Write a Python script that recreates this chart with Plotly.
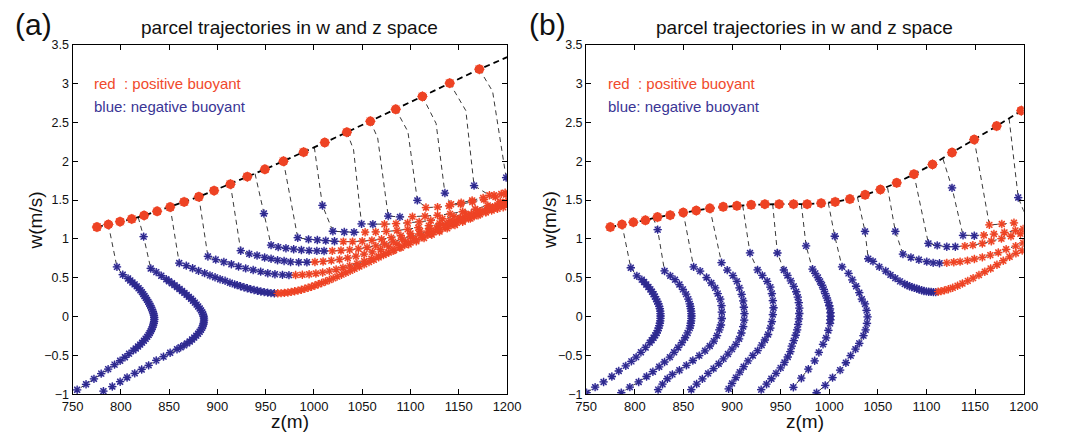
import plotly.graph_objects as go

# point kinds: N = path only (no marker), B = negative buoyancy, R = positive buoyancy
N, B, R = "-", "b", "r"

# ---------------- panel (a) ----------------
A_TOP_Z = [775.3, 787.1, 799.2, 811.3, 824.1, 837.6, 851.1, 865.6, 880.8, 896.6, 913.5,
           931.0, 949.2, 968.4, 989.3, 1011.2, 1034.1, 1058.4, 1084.7, 1112.3, 1140.6, 1171.3]
A_TOP_W = [1.153, 1.186, 1.223, 1.257, 1.302, 1.356, 1.410, 1.477, 1.543, 1.622, 1.705,
           1.801, 1.896, 2.000, 2.117, 2.241, 2.374, 2.515, 2.669, 2.835, 3.006, 3.185]
A_TOP_END = (1200.0, 3.34)

A01 = [(787.1, 1.186, N), (796.0, 0.640, B), (802.0, 0.540, B), (807.5, 0.490, B), (809.8, 0.465, B),
       (812.0, 0.440, B), (814.3, 0.415, B), (816.5, 0.390, B), (818.4, 0.365, B), (820.3, 0.340, B),
       (821.8, 0.315, B), (823.2, 0.290, B), (824.5, 0.265, B), (825.9, 0.240, B), (827.2, 0.215, B),
       (828.4, 0.190, B), (829.5, 0.165, B), (830.6, 0.140, B), (831.5, 0.115, B), (832.4, 0.090, B),
       (833.2, 0.065, B), (833.8, 0.040, B), (834.3, 0.015, B), (834.6, -0.010, B), (834.7, -0.035, B),
       (834.5, -0.060, B), (834.1, -0.085, B), (833.6, -0.110, B), (832.9, -0.135, B), (832.1, -0.160, B),
       (831.1, -0.185, B), (830.0, -0.210, B), (828.8, -0.235, B), (827.3, -0.260, B), (825.7, -0.285, B),
       (823.9, -0.310, B), (822.0, -0.335, B), (820.0, -0.360, B), (817.8, -0.385, B), (815.5, -0.410, B),
       (813.0, -0.435, B), (808.5, -0.477, B), (804.3, -0.523, B), (799.3, -0.568, B), (793.5, -0.618, B),
       (786.9, -0.676, B), (779.7, -0.734, B), (772.2, -0.801, B), (764.0, -0.871, B), (754.8, -0.942, B)]

A02 = [(818.0, 1.280, N), (823.6, 1.030, B), (831.0, 0.620, B), (836.7, 0.573, B), (841.9, 0.527, B),
       (847.1, 0.481, B), (849.9, 0.455, B), (852.9, 0.430, B), (855.6, 0.405, B), (858.2, 0.380, B),
       (860.8, 0.355, B), (863.4, 0.330, B), (865.9, 0.305, B), (868.2, 0.280, B), (870.5, 0.255, B),
       (872.8, 0.230, B), (874.8, 0.205, B), (876.7, 0.180, B), (878.5, 0.155, B), (880.1, 0.130, B),
       (881.7, 0.105, B), (883.1, 0.080, B), (884.2, 0.055, B), (885.1, 0.030, B), (885.7, 0.005, B),
       (886.1, -0.020, B), (886.2, -0.045, B), (886.0, -0.070, B), (885.6, -0.095, B), (885.0, -0.120, B),
       (884.1, -0.145, B), (883.0, -0.170, B), (881.6, -0.195, B), (880.0, -0.220, B), (878.1, -0.245, B),
       (876.0, -0.270, B), (873.8, -0.295, B), (871.4, -0.320, B), (868.6, -0.345, B), (865.5, -0.370, B),
       (862.0, -0.395, B), (858.2, -0.420, B), (851.1, -0.465, B), (844.2, -0.515, B), (836.7, -0.564, B),
       (828.8, -0.627, B), (821.6, -0.680, B), (814.4, -0.730, B), (806.5, -0.784, B), (799.3, -0.838, B),
       (791.2, -0.900, B), (782.0, -0.959, B)]

A03 = [(851.1, 1.410, N), (860.5, 0.690, B), (867.8, 0.656, B), (874.3, 0.622, B), (880.5, 0.589, B),
       (886.8, 0.560, B), (892.3, 0.531, B), (897.6, 0.506, B), (902.8, 0.481, B), (908.0, 0.461, B),
       (913.0, 0.436, B), (917.9, 0.415, B), (920.5, 0.405, B), (924.0, 0.392, B), (927.5, 0.379, B),
       (931.0, 0.366, B), (934.5, 0.354, B), (938.0, 0.343, B), (941.5, 0.333, B), (945.0, 0.324, B),
       (948.5, 0.316, B), (952.0, 0.309, B), (955.5, 0.303, B), (959.0, 0.300, B),
       (962.5, 0.300, R), (966.0, 0.302, R), (969.5, 0.306, R), (973.0, 0.311, R), (976.5, 0.318, R),
       (980.0, 0.326, R), (983.5, 0.335, R), (987.0, 0.346, R), (990.5, 0.358, R), (994.0, 0.371, R),
       (997.5, 0.385, R), (1001.0, 0.400, R), (1004.5, 0.416, R), (1008.0, 0.433, R), (1012.0, 0.452, R),
       (1016.0, 0.472, R), (1020.0, 0.493, R), (1024.0, 0.515, R), (1028.5, 0.540, R), (1033.0, 0.565, R),
       (1037.5, 0.590, R), (1042.0, 0.616, R), (1047.0, 0.645, R), (1052.0, 0.674, R), (1057.0, 0.703, R),
       (1062.0, 0.733, R), (1067.0, 0.763, R), (1072.0, 0.793, R), (1077.5, 0.825, R), (1083.0, 0.857, R),
       (1088.5, 0.889, R), (1094.0, 0.921, R), (1100.0, 0.955, R), (1106.0, 0.988, R), (1112.0, 1.021, R),
       (1118.0, 1.053, R), (1124.0, 1.085, R), (1130.0, 1.116, R), (1136.0, 1.147, R), (1142.0, 1.177, R),
       (1148.0, 1.207, R), (1154.0, 1.236, R), (1160.0, 1.264, R), (1166.0, 1.291, R), (1172.0, 1.317, R),
       (1178.0, 1.342, R), (1184.0, 1.365, R), (1190.0, 1.387, R), (1196.0, 1.408, R)]

A04 = [(880.8, 1.543, N), (890.2, 0.775, B), (898.3, 0.734, B), (906.7, 0.704, B), (914.5, 0.675, B),
       (921.9, 0.646, B), (929.3, 0.621, B), (937.1, 0.600, B), (944.8, 0.579, B), (952.2, 0.558, B),
       (959.6, 0.546, B), (967.4, 0.538, B), (974.1, 0.534, B),
       (981.0, 0.535, R), (988.0, 0.539, R), (995.0, 0.546, R), (1002.0, 0.556, R), (1009.0, 0.569, R),
       (1016.0, 0.586, R), (1023.0, 0.606, R), (1030.0, 0.629, R), (1037.0, 0.654, R), (1044.5, 0.683, R),
       (1052.0, 0.714, R), (1059.5, 0.746, R), (1067.0, 0.779, R), (1074.5, 0.812, R), (1082.0, 0.846, R),
       (1090.0, 0.888, R), (1098.0, 0.930, R), (1106.0, 0.971, R), (1114.0, 1.013, R), (1122.0, 1.055, R),
       (1130.0, 1.096, R), (1138.0, 1.138, R), (1146.0, 1.180, R), (1154.0, 1.221, R), (1162.0, 1.263, R),
       (1170.0, 1.305, R), (1178.0, 1.346, R), (1186.0, 1.388, R), (1194.0, 1.430, R)]

A05 = [(913.5, 1.705, N), (924.2, 0.849, B), (933.0, 0.808, B), (941.1, 0.787, B), (948.9, 0.762, B),
       (955.6, 0.746, B), (962.3, 0.725, B), (969.1, 0.717, B), (975.8, 0.704, B), (984.2, 0.700, B),
       (992.7, 0.700, B),
       (1001.0, 0.703, R), (1009.5, 0.710, R), (1018.0, 0.721, R), (1026.5, 0.736, R), (1035.0, 0.755, R),
       (1043.5, 0.778, R), (1052.0, 0.804, R), (1060.5, 0.833, R), (1069.0, 0.864, R), (1077.5, 0.897, R),
       (1086.0, 0.932, R), (1094.5, 0.968, R), (1103.0, 1.006, R), (1111.5, 1.045, R), (1120.0, 1.085, R),
       (1128.5, 1.125, R), (1137.0, 1.166, R), (1145.5, 1.207, R), (1154.0, 1.248, R), (1162.5, 1.289, R),
       (1171.0, 1.330, R), (1179.5, 1.371, R), (1188.0, 1.412, R), (1196.5, 1.453, R)]

A06 = [(939.0, 1.840, N), (948.2, 1.327, B), (955.6, 0.920, B), (963.0, 0.895, B), (971.0, 0.880, B),
       (979.0, 0.868, B), (987.0, 0.857, B), (995.0, 0.850, B), (1003.0, 0.846, B), (1010.5, 0.845, B),
       (1019.0, 0.846, R), (1028.0, 0.851, R), (1037.0, 0.860, R), (1046.0, 0.873, R), (1055.0, 0.890, R),
       (1064.0, 0.911, R), (1073.0, 0.935, R), (1082.0, 0.963, R), (1091.0, 0.994, R), (1100.0, 1.028, R),
       (1109.0, 1.064, R), (1118.0, 1.102, R), (1127.0, 1.142, R), (1136.0, 1.183, R), (1145.0, 1.225, R),
       (1154.0, 1.267, R), (1163.0, 1.309, R), (1172.0, 1.351, R), (1181.0, 1.393, R), (1190.0, 1.435, R),
       (1199.0, 1.477, R)]

A07 = [(968.4, 2.000, N), (983.2, 1.016, B), (994.4, 0.995, B), (1003.5, 0.987, B), (1012.2, 0.978, B),
       (1021.3, 0.970, B),
       (1030.5, 0.966, R), (1040.0, 0.966, R), (1050.0, 0.971, R), (1060.0, 0.981, R), (1070.0, 0.996, R),
       (1080.0, 1.016, R), (1090.0, 1.041, R), (1100.0, 1.070, R), (1110.0, 1.102, R), (1120.0, 1.137, R),
       (1130.0, 1.174, R), (1140.0, 1.213, R), (1150.0, 1.253, R), (1160.0, 1.294, R), (1170.0, 1.336, R),
       (1180.0, 1.378, R), (1190.0, 1.420, R), (1199.5, 1.460, R)]

A08 = [(1000.4, 2.180, N), (1008.8, 1.431, B), (1019.6, 1.099, B), (1031.4, 1.090, B), (1041.5, 1.086, B),
       (1053.0, 1.087, R), (1064.0, 1.090, R), (1075.0, 1.097, R), (1086.0, 1.108, R), (1097.0, 1.124, R),
       (1108.0, 1.145, R), (1119.0, 1.171, R), (1130.0, 1.201, R), (1141.0, 1.234, R), (1152.0, 1.272, R),
       (1163.0, 1.318, R), (1174.0, 1.362, R), (1185.0, 1.408, R), (1196.0, 1.455, R)]

A09 = [(1034.1, 2.374, N), (1041.0, 2.150, N), (1049.3, 1.194, B), (1061.0, 1.190, B),
       (1073.0, 1.190, R), (1085.0, 1.196, R), (1097.0, 1.206, R), (1109.0, 1.220, R), (1121.0, 1.238, R),
       (1133.0, 1.260, R), (1145.0, 1.290, R), (1157.0, 1.325, R), (1169.0, 1.365, R), (1181.0, 1.410, R),
       (1193.0, 1.460, R)]

A10 = [(1058.4, 2.515, N), (1066.0, 2.300, N), (1076.9, 1.294, B), (1089.0, 1.284, B),
       (1102.0, 1.287, R), (1115.0, 1.293, R), (1128.0, 1.305, R), (1141.0, 1.323, R), (1154.0, 1.350, R),
       (1167.0, 1.385, R), (1180.0, 1.430, R), (1193.0, 1.480, R)]

A11 = [(1084.7, 2.669, N), (1097.3, 2.382, N), (1107.1, 1.496, B),
       (1116.0, 1.404, R), (1128.0, 1.410, R), (1140.0, 1.425, R), (1152.0, 1.448, R), (1164.0, 1.476, R),
       (1176.0, 1.507, R), (1188.0, 1.540, R), (1199.0, 1.570, R)]

A12 = [(1112.3, 2.835, N), (1126.5, 2.486, N), (1135.6, 1.591, B),
       (1142.0, 1.446, R), (1152.5, 1.466, R), (1163.8, 1.496, R), (1175.2, 1.529, R), (1186.5, 1.562, R),
       (1198.0, 1.595, R)]

A13 = [(1140.6, 3.006, N), (1157.3, 2.652, N), (1165.8, 1.687, B),
       (1181.7, 1.562, R), (1194.0, 1.580, R)]

A14 = [(1171.3, 3.185, N), (1185.0, 2.900, N), (1199.0, 1.790, B)]

# ---------------- panel (b) ----------------
B_TOP_Z = [774.8, 786.8, 798.5, 810.9, 823.3, 836.4, 849.8, 863.2, 877.2, 890.9, 905.0, 919.7, 933.8,
           948.5, 963.3, 977.3, 991.7, 1006.1, 1021.2, 1036.9, 1052.6, 1069.4, 1087.1, 1106.2, 1126.3,
           1149.1, 1172.2, 1197.6]
B_TOP_W = [1.153, 1.186, 1.215, 1.240, 1.281, 1.306, 1.340, 1.365, 1.394, 1.414, 1.427, 1.439, 1.448,
           1.448, 1.448, 1.448, 1.460, 1.477, 1.514, 1.568, 1.635, 1.722, 1.834, 1.959, 2.112,
           2.279, 2.453, 2.652]

B01 = [(786.8, 1.186, N), (795.9, 0.629, B), (802.1, 0.525, B), (807.2, 0.476, B), (809.6, 0.445, B),
       (811.8, 0.413, B), (814.0, 0.382, B), (816.0, 0.351, B), (817.7, 0.320, B), (819.3, 0.289, B),
       (820.7, 0.258, B), (821.9, 0.226, B), (823.1, 0.195, B), (824.2, 0.164, B), (825.1, 0.133, B),
       (825.8, 0.102, B), (826.2, 0.070, B), (826.4, 0.039, B), (826.5, 0.008, B), (826.4, -0.023, B),
       (826.2, -0.054, B), (825.8, -0.085, B), (825.2, -0.116, B), (824.5, -0.148, B), (823.6, -0.179, B),
       (822.5, -0.210, B), (821.0, -0.241, B), (819.3, -0.272, B), (817.4, -0.303, B), (815.4, -0.335, B),
       (811.1, -0.397, B), (806.3, -0.459, B), (801.4, -0.522, B), (796.5, -0.576, B), (790.7, -0.634, B),
       (783.5, -0.700, B), (776.4, -0.771, B), (767.9, -0.841, B), (759.2, -0.908, B), (750.4, -0.979, B)]

B02 = [(819.0, 1.270, N), (823.5, 1.120, B), (830.6, 0.588, B), (836.5, 0.525, B), (841.4, 0.476, B),
       (845.9, 0.413, B), (849.5, 0.351, B), (852.7, 0.289, B), (855.0, 0.226, B), (856.6, 0.164, B),
       (857.1, 0.133, B), (857.6, 0.102, B), (857.95, 0.070, B), (858.2, 0.039, B), (858.3, 0.008, B),
       (858.2, -0.023, B), (857.95, -0.054, B), (857.6, -0.085, B), (857.2, -0.116, B), (856.6, -0.148, B),
       (854.3, -0.210, B), (851.7, -0.272, B), (848.5, -0.335, B), (844.6, -0.397, B), (840.4, -0.459, B),
       (836.1, -0.522, B), (830.6, -0.584, B), (825.1, -0.646, B), (818.6, -0.709, B), (812.1, -0.771, B),
       (804.0, -0.841, B), (794.9, -0.908, B), (786.1, -0.979, B)]

B03 = [(849.8, 1.340, N), (860.5, 0.640, B), (867.2, 0.586, B), (873.8, 0.503, B), (878.7, 0.433, B),
       (882.7, 0.370, B), (885.3, 0.296, B), (887.9, 0.225, B), (889.2, 0.142, B), (889.5, 0.059, B),
       (889.5, -0.024, B), (888.6, -0.108, B), (886.9, -0.170, B), (884.6, -0.245, B), (881.3, -0.315, B),
       (877.1, -0.378, B), (872.2, -0.440, B), (866.3, -0.502, B), (859.7, -0.565, B), (853.1, -0.627, B),
       (845.9, -0.690, B), (838.7, -0.744, B), (833.5, -0.800, B), (828.5, -0.870, B), (824.0, -0.940, B)]

B04 = [(877.2, 1.394, N), (889.2, 0.695, B), (895.1, 0.599, B), (901.0, 0.528, B), (905.0, 0.454, B),
       (907.6, 0.370, B), (909.9, 0.287, B), (911.5, 0.204, B), (912.2, 0.121, B), (912.8, 0.038, B),
       (912.5, -0.045, B), (911.5, -0.128, B), (909.6, -0.211, B), (907.3, -0.286, B), (904.0, -0.357, B),
       (900.0, -0.419, B), (895.8, -0.482, B), (891.2, -0.544, B), (886.3, -0.607, B), (881.0, -0.669, B),
       (875.4, -0.731, B), (869.5, -0.802, B), (863.6, -0.868, B), (858.1, -0.939, B)]

B05 = [(911.0, 1.430, N), (918.5, 0.820, B), (926.3, 0.601, B), (931.2, 0.530, B), (936.1, 0.455, B),
       (939.4, 0.380, B), (941.0, 0.297, B), (942.0, 0.206, B), (942.7, 0.114, B), (942.0, 0.027, B),
       (941.0, -0.064, B), (939.4, -0.147, B), (937.1, -0.230, B), (933.8, -0.301, B), (930.5, -0.367, B),
       (926.3, -0.438, B), (921.4, -0.500, B), (916.5, -0.570, B), (912.0, -0.645, B), (908.0, -0.715, B),
       (904.0, -0.785, B), (900.0, -0.860, B), (896.5, -0.930, B)]

B06 = [(941.8, 1.448, N), (946.7, 0.819, B), (953.3, 0.600, B), (957.0, 0.530, B), (960.5, 0.460, B),
       (963.5, 0.390, B), (966.0, 0.320, B), (967.7, 0.250, B), (968.7, 0.180, B), (969.2, 0.110, B),
       (969.2, 0.040, B), (968.8, -0.030, B), (968.0, -0.100, B), (967.0, -0.170, B), (965.5, -0.240, B),
       (963.5, -0.310, B), (961.5, -0.380, B), (960.0, -0.450, B), (957.3, -0.520, B), (954.0, -0.590, B),
       (950.0, -0.660, B), (945.3, -0.730, B), (940.5, -0.800, B), (935.5, -0.870, B), (930.0, -0.940, B)]

B07 = [(971.3, 1.448, N), (976.2, 0.911, B), (982.8, 0.612, B), (985.6, 0.557, B), (988.3, 0.503, B),
       (990.6, 0.452, B), (992.6, 0.404, B), (994.4, 0.350, B), (995.9, 0.296, B), (997.6, 0.240, B),
       (999.1, 0.183, B), (1000.1, 0.140, B), (1000.8, 0.100, B), (1001.3, 0.050, B), (1001.4, 0.005, B),
       (1001.2, -0.040, B), (1000.8, -0.087, B), (999.1, -0.178, B), (996.8, -0.274, B), (993.6, -0.357, B),
       (989.3, -0.461, B), (985.0, -0.569, B), (978.5, -0.677, B), (971.3, -0.793, B), (963.1, -0.910, B)]

B08 = [(999.0, 1.465, N), (1005.7, 1.035, B), (1013.2, 0.641, B), (1019.8, 0.557, B), (1023.7, 0.474, B),
       (1027.6, 0.391, B), (1030.9, 0.308, B), (1033.5, 0.225, B), (1036.8, 0.163, B), (1038.4, 0.080, B),
       (1039.4, -0.004, B), (1038.8, -0.087, B), (1037.4, -0.170, B), (1035.2, -0.245, B), (1030.9, -0.344, B),
       (1027.0, -0.419, B), (1022.0, -0.502, B), (1017.1, -0.594, B), (1011.2, -0.689, B), (1003.4, -0.785, B),
       (995.9, -0.885, B), (987.0, -0.980, B)]

B09 = [(1029.0, 1.540, N), (1036.8, 1.097, B), (1040.1, 0.745, B), (1045.0, 0.711, B), (1051.5, 0.641, B),
       (1058.1, 0.587, B), (1063.0, 0.537, B), (1067.9, 0.495, B), (1072.8, 0.454, B), (1077.7, 0.420, B),
       (1080.2, 0.405, B), (1082.6, 0.391, B), (1085.0, 0.380, B), (1087.6, 0.370, B), (1090.0, 0.360, B),
       (1092.5, 0.350, B), (1095.0, 0.340, B), (1097.4, 0.329, B), (1100.0, 0.325, B), (1102.3, 0.321, B),
       (1104.8, 0.318, B), (1107.2, 0.316, B), (1109.5, 0.316, B),
       (1112.0, 0.321, R), (1115.0, 0.328, R), (1118.5, 0.338, R), (1122.5, 0.352, R), (1127.0, 0.372, R),
       (1132.0, 0.397, R), (1137.0, 0.426, R), (1142.5, 0.460, R), (1148.0, 0.495, R), (1154.0, 0.535, R),
       (1160.0, 0.578, R), (1166.0, 0.620, R), (1172.5, 0.668, R), (1179.0, 0.720, R), (1185.5, 0.770, R),
       (1192.0, 0.815, R), (1198.5, 0.852, R)]

B10 = [(1060.0, 1.660, N), (1068.0, 1.097, B), (1075.8, 0.804, B), (1084.0, 0.762, B), (1092.2, 0.733, B),
       (1100.3, 0.708, B), (1106.9, 0.692, B), (1113.4, 0.688, B),
       (1120.9, 0.692, R), (1128.1, 0.700, R), (1134.6, 0.708, R), (1142.2, 0.721, R), (1149.3, 0.742, R),
       (1157.5, 0.763, R), (1165.7, 0.792, R), (1173.9, 0.825, R), (1182.0, 0.867, R), (1191.8, 0.908, R),
       (1199.5, 0.950, R)]

B11 = [(1087.1, 1.834, N), (1102.0, 0.942, B), (1111.1, 0.917, B), (1120.9, 0.900, B), (1129.7, 0.900, B),
       (1139.5, 0.908, R), (1147.7, 0.921, R), (1157.5, 0.942, R), (1166.7, 0.971, R), (1177.1, 1.004, R),
       (1186.9, 1.035, R), (1196.7, 1.067, R)]

B12 = [(1117.0, 2.030, N), (1126.3, 1.658, B), (1137.6, 1.046, B), (1149.2, 1.042, B),
       (1159.0, 1.048, R), (1169.4, 1.063, R), (1180.2, 1.083, R), (1191.5, 1.108, R), (1199.5, 1.130, R)]

B13 = [(1149.1, 2.279, N), (1164.7, 1.181, R), (1177.5, 1.192, R), (1190.0, 1.208, R)]

B14 = [(1185.0, 2.550, N), (1194.4, 1.533, B), (1201.0, 1.330, N)]

A_TRAJ = [A01, A02, A03, A04, A05, A06, A07, A08, A09, A10, A11, A12, A13, A14]
B_TRAJ = [B01, B02, B03, B04, B05, B06, B07, B08, B09, B10, B11, B12, B13, B14]

X_TICKS = [750, 800, 850, 900, 950, 1000, 1050, 1100, 1150, 1200]
Y_TICKS = [-1, -0.5, 0, 0.5, 1, 1.5, 2, 2.5, 3, 3.5]
Y_TICK_TEXT = ["\u22121", "\u22120.5", "0", "0.5", "1", "1.5", "2", "2.5", "3", "3.5"]

TITLE = "parcel trajectories in w and z space"
LEGEND_POS = "red\u00a0\u00a0: positive buoyant"
LEGEND_NEG = "blue: negative buoyant"

BLUE = "#2e2a8f"
BLUE_HALO = "rgba(150,140,220,0.6)"
RED = "#ee4324"
RED_HALO = "rgba(248,150,125,0.6)"
FONT = "Liberation Sans, Arial, Helvetica, sans-serif"

W, H = 1066, 441


def split(trajs):
    lz, lw, bz, bw, rz, rw = [], [], [], [], [], []
    for t in trajs:
        for z, w, k in t:
            lz.append(z)
            lw.append(w)
            if k == B:
                bz.append(z)
                bw.append(w)
            elif k == R:
                rz.append(z)
                rw.append(w)
        lz.append(None)
        lw.append(None)
    return lz, lw, bz, bw, rz, rw


fig = go.Figure()


def add_panel(trajs, top_z, top_w, top_end, xa, ya):
    lz, lw, bz, bw, rz, rw = split(trajs)
    # thin dashed trajectory paths
    fig.add_trace(go.Scatter(x=lz, y=lw, mode="lines", xaxis=xa, yaxis=ya,
                             line=dict(color="#222222", width=0.9, dash="5px,4px"),
                             hoverinfo="skip", showlegend=False))
    # soft halo under each asterisk
    fig.add_trace(go.Scatter(x=bz, y=bw, mode="markers", xaxis=xa, yaxis=ya,
                             marker=dict(symbol="circle", size=7, color=BLUE_HALO, line=dict(width=0)),
                             hoverinfo="skip", showlegend=False))
    fig.add_trace(go.Scatter(x=rz, y=rw, mode="markers", xaxis=xa, yaxis=ya,
                             marker=dict(symbol="circle", size=7, color=RED_HALO, line=dict(width=0)),
                             hoverinfo="skip", showlegend=False))
    fig.add_trace(go.Scatter(x=bz, y=bw, mode="markers", xaxis=xa, yaxis=ya,
                             marker=dict(symbol="asterisk-open", size=7, color=BLUE,
                                         line=dict(color=BLUE, width=1.3)),
                             showlegend=False))
    fig.add_trace(go.Scatter(x=rz, y=rw, mode="markers", xaxis=xa, yaxis=ya,
                             marker=dict(symbol="asterisk-open", size=7, color=RED,
                                         line=dict(color=RED, width=1.3)),
                             showlegend=False))
    # initial states: bold dashed curve with filled red dots
    line_z = list(top_z) + ([top_end[0]] if top_end else [])
    line_w = list(top_w) + ([top_end[1]] if top_end else [])
    fig.add_trace(go.Scatter(x=line_z, y=line_w, mode="lines", xaxis=xa, yaxis=ya,
                             line=dict(color="black", width=1.8, dash="6px,4px"),
                             hoverinfo="skip", showlegend=False))
    fig.add_trace(go.Scatter(x=top_z, y=top_w, mode="markers", xaxis=xa, yaxis=ya,
                             marker=dict(symbol="circle", size=9.5, color=RED, line=dict(width=0)),
                             showlegend=False))
    fig.add_trace(go.Scatter(x=top_z, y=top_w, mode="markers", xaxis=xa, yaxis=ya,
                             marker=dict(symbol="asterisk-open", size=8.5, color=RED,
                                         line=dict(color=RED, width=1.0)),
                             hoverinfo="skip", showlegend=False))


add_panel(A_TRAJ, A_TOP_Z, A_TOP_W, A_TOP_END, "x", "y")
add_panel(B_TRAJ, B_TOP_Z, B_TOP_W, None, "x2", "y2")

# plot areas in pixels: (left, right), (top, bottom)
PA = (63, 508)
PB = (589, 1037)
PT, PBOT = 39, 400

xcommon = dict(range=[750, 1200], tickvals=X_TICKS, ticks="inside", ticklen=5, tickwidth=1,
               tickcolor="black", showline=True, linecolor="black", linewidth=1.2, mirror="ticks",
               showgrid=False, zeroline=False, tickfont=dict(family=FONT, size=13, color="#111"))
ycommon = dict(range=[-1, 3.5], tickvals=Y_TICKS, ticktext=Y_TICK_TEXT, ticks="inside", ticklen=5,
               tickwidth=1, tickcolor="black", showline=True, linecolor="black", linewidth=1.2,
               mirror="ticks", showgrid=False, zeroline=False,
               tickfont=dict(family=FONT, size=12.5, color="#111"),
               domain=[1 - PBOT / H, 1 - PT / H])

fig.update_layout(
    width=W, height=H, margin=dict(l=0, r=0, t=0, b=0),
    paper_bgcolor="white", plot_bgcolor="white", showlegend=False,
    xaxis=dict(xcommon, domain=[PA[0] / W, PA[1] / W], anchor="y"),
    yaxis=dict(ycommon, anchor="x"),
    xaxis2=dict(xcommon, domain=[PB[0] / W, PB[1] / W], anchor="y2"),
    yaxis2=dict(ycommon, anchor="x2"),
)

ann = []
for (left, right), tag in ((PA, "(a)"), (PB, "(b)")):
    cx = (left + right) / 2
    ann.append(dict(x=cx / W, y=1 - 21 / H, text=TITLE, showarrow=False, xref="paper", yref="paper",
                    xanchor="center", yanchor="middle", font=dict(family=FONT, size=19, color="#111")))
    ann.append(dict(x=(left - 40) / W, y=1 - 18 / H, text=tag, showarrow=False, xref="paper",
                    yref="paper", xanchor="center", yanchor="middle",
                    font=dict(family=FONT, size=30, color="#111")))
    ann.append(dict(x=(left + 20) / W, y=1 - 79 / H, text=LEGEND_POS, showarrow=False, xref="paper",
                    yref="paper", xanchor="left", yanchor="middle",
                    font=dict(family=FONT, size=15, color="#f04a2c")))
    ann.append(dict(x=(left + 20) / W, y=1 - 103 / H, text=LEGEND_NEG, showarrow=False, xref="paper",
                    yref="paper", xanchor="left", yanchor="middle",
                    font=dict(family=FONT, size=15, color="#3a3595")))
    ann.append(dict(x=cx / W, y=1 - 428 / H, text="z(m)", showarrow=False, xref="paper", yref="paper",
                    xanchor="center", yanchor="middle", font=dict(family=FONT, size=19, color="#111")))
    ann.append(dict(x=(left - 38) / W, y=1 - 220 / H, text="w(m/s)", showarrow=False, xref="paper",
                    yref="paper", xanchor="center", yanchor="middle", textangle=-90,
                    font=dict(family=FONT, size=19, color="#111")))
fig.update_layout(annotations=ann)

fig.write_html("out.html")
